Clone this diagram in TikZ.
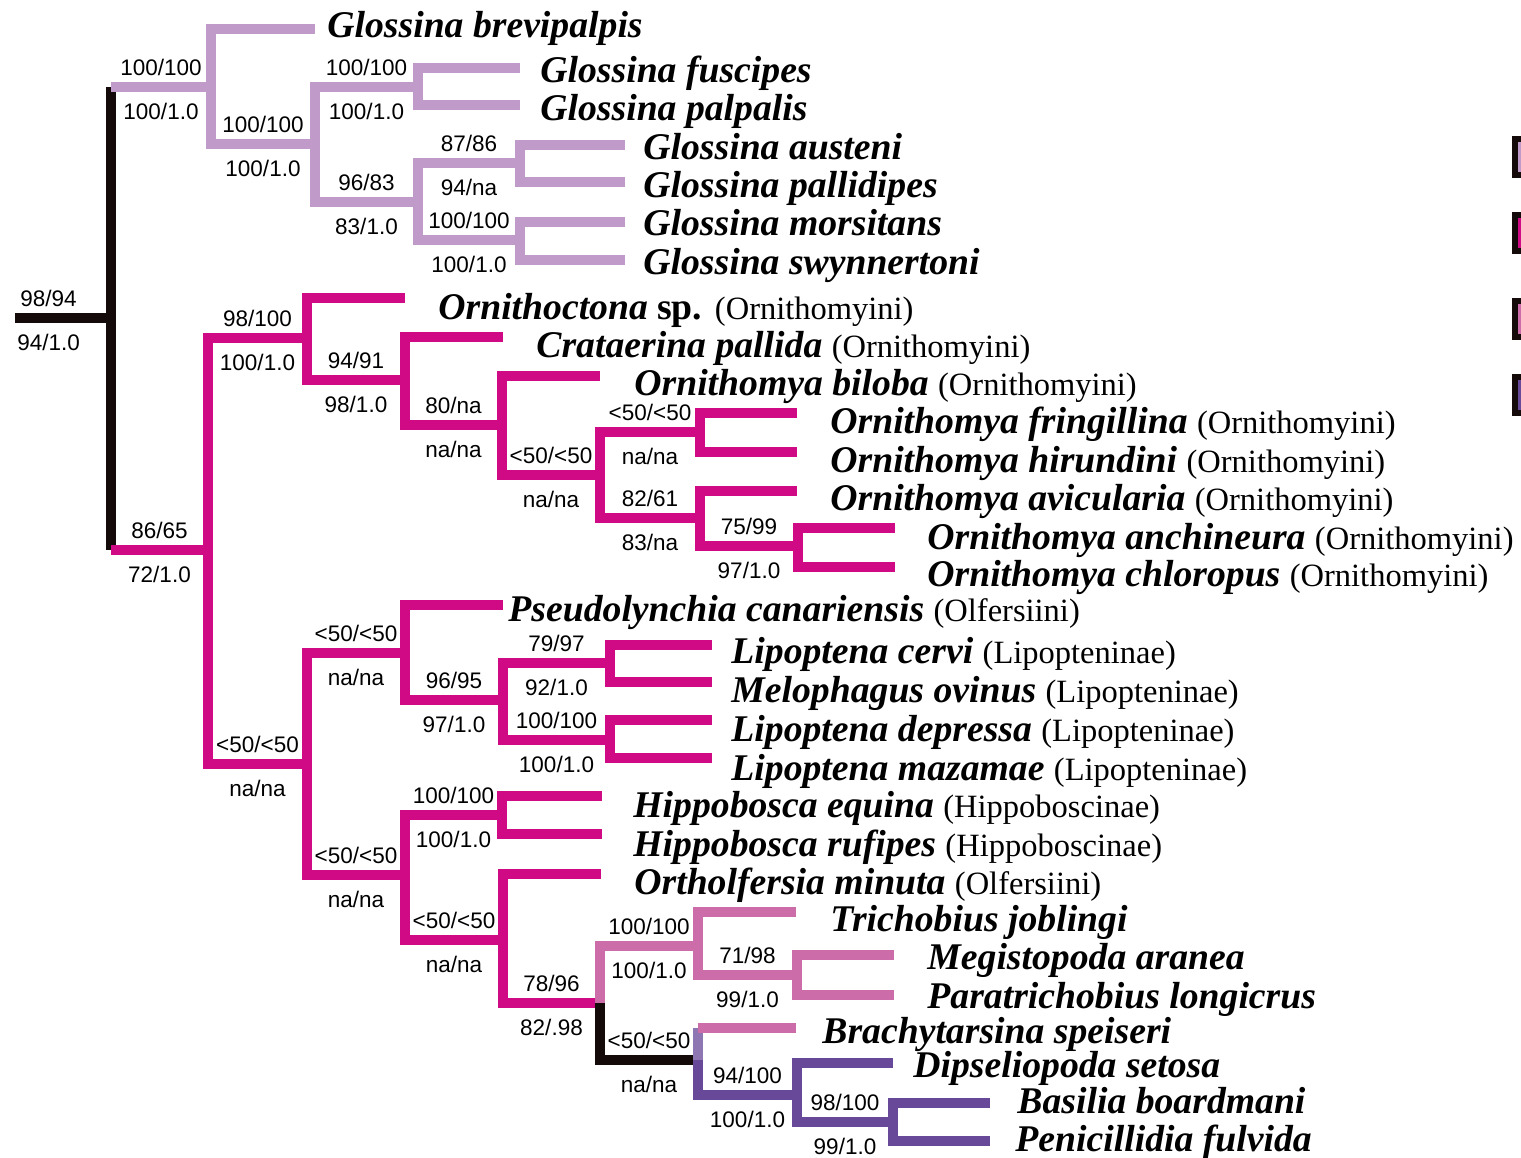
\documentclass[tikz,border=0pt]{standalone}
\usepackage{fontspec}
\usepackage{xcolor}
\usepackage{tikz}
\newfontfamily\taxfont{Liberation Serif}
\newfontfamily\supfont{Liberation Sans}
\definecolor{glossc}{RGB}{192,154,200}
\definecolor{hippoc}{RGB}{207,10,132}
\definecolor{streblc}{RGB}{204,108,168}
\definecolor{nyctc}{RGB}{104,72,152}
\definecolor{stemc}{RGB}{20,10,10}
\newcommand{\sname}[1]{\textbf{\textit{#1}}}
\newcommand{\tribe}[1]{{\fontsize{16.25}{18}\selectfont\mdseries\upshape (#1)}}

\begin{document}
\begin{tikzpicture}[x=0.5pt, y=-0.5pt,
  br/.style={line width=4.7pt, line join=miter},
  taxon/.style={anchor=base west, inner sep=0pt, font=\taxfont\fontsize{18.85}{20}\selectfont},
  suplab/.style={pos=0.75, anchor=base, inner sep=0pt, text=black, font=\supfont\fontsize{11.25}{12}\selectfont},
  supup/.style={suplab, yshift=6pt},
  supdown/.style={suplab, yshift=-16pt}
]
\useasboundingbox (0,0) rectangle (1521,1157);

% internal nodes
\coordinate (rootend) at (15,318);
\coordinate (root) at (111,318);
\coordinate (glo) at (211,87);
\coordinate (glo2) at (315,144);
\coordinate (fus) at (418,87);
\coordinate (glo3) at (418,202);
\coordinate (aus) at (520,163);
\coordinate (mor) at (520,240);
\coordinate (hip) at (208,550);
\coordinate (orn1) at (307,338);
\coordinate (orn2) at (405,380);
\coordinate (orn3) at (502,425);
\coordinate (orn4) at (600,475);
\coordinate (orn5) at (700,432);
\coordinate (orn6) at (700,518);
\coordinate (orn7) at (798,546);
\coordinate (low) at (307,764);
\coordinate (lip1) at (405,653);
\coordinate (lip2) at (503,700);
\coordinate (lip3) at (610,663);
\coordinate (lip4) at (610,740);
\coordinate (hbo) at (405,875);
\coordinate (hbo2) at (502,815);
\coordinate (ort) at (503,940);
\coordinate (bat) at (600,1003);
\coordinate (stre) at (698,946);
\coordinate (stre2) at (797,975);
\coordinate (nyc) at (698,1060);
\coordinate (nyc2) at (797,1095);
\coordinate (nyc3) at (893,1122);

% leaf tips
\coordinate (brev) at (315,29);
\coordinate (fusc) at (520,68);
\coordinate (palp) at (520,105);
\coordinate (aust) at (625,145);
\coordinate (pall) at (625,182);
\coordinate (mors) at (625,222);
\coordinate (swyn) at (625,260);
\coordinate (orto) at (405,298);
\coordinate (crat) at (503,337);
\coordinate (bilo) at (600,376);
\coordinate (frin) at (797,413);
\coordinate (hiru) at (797,452);
\coordinate (avic) at (797,491);
\coordinate (anch) at (895,528);
\coordinate (chlo) at (895,567);
\coordinate (pseu) at (503,605);
\coordinate (cerv) at (712,645);
\coordinate (ovin) at (712,682);
\coordinate (depr) at (712,720);
\coordinate (maza) at (712,758);
\coordinate (equi) at (602,796);
\coordinate (rufi) at (602,834);
\coordinate (orth) at (601,874);
\coordinate (trich) at (796,912);
\coordinate (megi) at (894,955);
\coordinate (parat) at (894,995);
\coordinate (brach) at (796,1028);
\coordinate (dips) at (893,1063);
\coordinate (basi) at (990,1103);
\coordinate (peni) at (990,1141);

% taxa
\node[taxon] (tbrev) at (327,37) {\sname{Glossina brevipalpis}};
\node[taxon] (tfusc) at (540,82) {\sname{Glossina fuscipes}};
\node[taxon] (tpalp) at (540,120) {\sname{Glossina palpalis}};
\node[taxon] (taust) at (643,159) {\sname{Glossina austeni}};
\node[taxon] (tpall) at (643,197) {\sname{Glossina pallidipes}};
\node[taxon] (tmors) at (643,235) {\sname{Glossina morsitans}};
\node[taxon] (tswyn) at (643,274) {\sname{Glossina swynnertoni}};
\node[taxon] (torto) at (438,319) {\sname{Ornithoctona} \textbf{sp.} \tribe{Ornithomyini}};
\node[taxon] (tcrat) at (536,357) {\sname{Crataerina pallida} \tribe{Ornithomyini}};
\node[taxon] (tbilo) at (634,395) {\sname{Ornithomya biloba} \tribe{Ornithomyini}};
\node[taxon] (tfrin) at (830,433) {\sname{Ornithomya fringillina} \tribe{Ornithomyini}};
\node[taxon] (thiru) at (830,472) {\sname{Ornithomya hirundini} \tribe{Ornithomyini}};
\node[taxon] (tavic) at (830,510) {\sname{Ornithomya avicularia} \tribe{Ornithomyini}};
\node[taxon] (tanch) at (927,549) {\sname{Ornithomya anchineura} \tribe{Ornithomyini}};
\node[taxon] (tchlo) at (927,586) {\sname{Ornithomya chloropus} \tribe{Ornithomyini}};
\node[taxon] (tpseu) at (508,621) {\sname{Pseudolynchia canariensis} \tribe{Olfersiini}};
\node[taxon] (tcerv) at (731,663) {\sname{Lipoptena cervi} \tribe{Lipopteninae}};
\node[taxon] (tovin) at (731,702) {\sname{Melophagus ovinus} \tribe{Lipopteninae}};
\node[taxon] (tdepr) at (731,741) {\sname{Lipoptena depressa} \tribe{Lipopteninae}};
\node[taxon] (tmaza) at (731,780) {\sname{Lipoptena mazamae} \tribe{Lipopteninae}};
\node[taxon] (tequi) at (633,817) {\sname{Hippobosca equina} \tribe{Hippoboscinae}};
\node[taxon] (trufi) at (633,856) {\sname{Hippobosca rufipes} \tribe{Hippoboscinae}};
\node[taxon] (torth) at (634,894) {\sname{Ortholfersia minuta} \tribe{Olfersiini}};
\node[taxon] (ttrich) at (830,931) {\sname{Trichobius joblingi}};
\node[taxon] (tmegi) at (927,969) {\sname{Megistopoda aranea}};
\node[taxon] (tparat) at (927,1008) {\sname{Paratrichobius longicrus}};
\node[taxon] (tbrach) at (822,1043) {\sname{Brachytarsina speiseri}};
\node[taxon] (tdips) at (913,1077) {\sname{Dipseliopoda setosa}};
\node[taxon] (tbasi) at (1017,1113) {\sname{Basilia boardmani}};
\node[taxon] (tpeni) at (1015,1151) {\sname{Penicillidia fulvida}};

% stem
\draw[br, stemc] (root |- glo) -- (root |- hip);
\draw[br, stemc] (rootend) -- node[supup, pos=0.35] {98/94} node[supdown, pos=0.35] {94/1.0} (root);

% Glossinidae
\draw[br, glossc] (root |- glo) -- node[supup, pos=0.5] {100/100} node[supdown, pos=0.5] {100/1.0} (glo);
\draw[br, glossc] (glo) |- (brev);
\draw[br, glossc] (glo) |- node[supup] {100/100} node[supdown] {100/1.0} (glo2);
\draw[br, glossc] (glo2) |- node[supup] {100/100} node[supdown] {100/1.0} (fus);
\draw[br, glossc] (glo2) |- node[supup] {96/83} node[supdown] {83/1.0} (glo3);
\draw[br, glossc] (fus) |- (fusc);
\draw[br, glossc] (fus) |- (palp);
\draw[br, glossc] (glo3) |- node[supup] {87/86} node[supdown] {94/na} (aus);
\draw[br, glossc] (glo3) |- node[supup] {100/100} node[supdown] {100/1.0} (mor);
\draw[br, glossc] (aus) |- (aust);
\draw[br, glossc] (aus) |- (pall);
\draw[br, glossc] (mor) |- (mors);
\draw[br, glossc] (mor) |- (swyn);

% Hippoboscidae
\draw[br, hippoc] (root |- hip) -- node[supup, pos=0.5] {86/65} node[supdown, pos=0.5] {72/1.0} (hip);
\draw[br, hippoc] (hip) |- node[supup] {98/100} node[supdown] {100/1.0} (orn1);
\draw[br, hippoc] (orn1) |- (orto);
\draw[br, hippoc] (orn1) |- node[supup] {94/91} node[supdown] {98/1.0} (orn2);
\draw[br, hippoc] (orn2) |- (crat);
\draw[br, hippoc] (orn2) |- node[supup] {80/na} node[supdown] {na/na} (orn3);
\draw[br, hippoc] (orn3) |- (bilo);
\draw[br, hippoc] (orn3) |- node[supup] {<50/<50} node[supdown] {na/na} (orn4);
\draw[br, hippoc] (orn4) |- node[supup] {<50/<50} node[supdown] {na/na} (orn5);
\draw[br, hippoc] (orn4) |- node[supup] {82/61} node[supdown] {83/na} (orn6);
\draw[br, hippoc] (orn5) |- (frin);
\draw[br, hippoc] (orn5) |- (hiru);
\draw[br, hippoc] (orn6) |- (avic);
\draw[br, hippoc] (orn6) |- node[supup] {75/99} node[supdown] {97/1.0} (orn7);
\draw[br, hippoc] (orn7) |- (anch);
\draw[br, hippoc] (orn7) |- (chlo);
\draw[br, hippoc] (hip) |- node[supup] {<50/<50} node[supdown] {na/na} (low);
\draw[br, hippoc] (low) |- node[supup] {<50/<50} node[supdown] {na/na} (lip1);
\draw[br, hippoc] (lip1) |- (pseu);
\draw[br, hippoc] (lip1) |- node[supup] {96/95} node[supdown] {97/1.0} (lip2);
\draw[br, hippoc] (lip2) |- node[supup] {79/97} node[supdown] {92/1.0} (lip3);
\draw[br, hippoc] (lip2) |- node[supup] {100/100} node[supdown] {100/1.0} (lip4);
\draw[br, hippoc] (lip3) |- (cerv);
\draw[br, hippoc] (lip3) |- (ovin);
\draw[br, hippoc] (lip4) |- (depr);
\draw[br, hippoc] (lip4) |- (maza);
\draw[br, hippoc] (low) |- node[supup] {<50/<50} node[supdown] {na/na} (hbo);
\draw[br, hippoc] (hbo) |- node[supup] {100/100} node[supdown] {100/1.0} (hbo2);
\draw[br, hippoc] (hbo2) |- (equi);
\draw[br, hippoc] (hbo2) |- (rufi);
\draw[br, hippoc] (hbo) |- node[supup] {<50/<50} node[supdown] {na/na} (ort);
\draw[br, hippoc] (ort) |- (orth);
\draw[br, hippoc] (ort) |- node[supup] {78/96} node[supdown] {82/.98} (bat);

% bat flies
\draw[br, streblc] (bat) |- node[supup] {100/100} node[supdown] {100/1.0} (stre);
\draw[br, streblc] (stre) |- (trich);
\draw[br, streblc] (stre) |- node[supup] {71/98} node[supdown] {99/1.0} (stre2);
\draw[br, streblc] (stre2) |- (megi);
\draw[br, streblc] (stre2) |- (parat);
\draw[br, stemc] (bat) |- node[supup] {<50/<50} node[supdown] {na/na} (nyc);
\draw[br, nyctc!75] (nyc) -- (nyc |- brach);
\draw[br, streblc] (nyc |- brach) -- (brach);
\draw[br, nyctc] (nyc) |- node[supup] {94/100} node[supdown] {100/1.0} (nyc2);
\draw[br, nyctc] (nyc2) |- (dips);
\draw[br, nyctc] (nyc2) |- node[supup] {98/100} node[supdown] {99/1.0} (nyc3);
\draw[br, nyctc] (nyc3) |- (basi);
\draw[br, nyctc] (nyc3) |- (peni);

% key boxes, cut at the edge
\fill[stemc] (1512,136) rectangle (1521,178);
\fill[glossc] (1518,142) rectangle (1521,172);
\fill[stemc] (1512,212) rectangle (1521,254);
\fill[hippoc] (1518,218) rectangle (1521,248);
\fill[stemc] (1512,298) rectangle (1521,340);
\fill[streblc] (1518,304) rectangle (1521,334);
\fill[stemc] (1512,374) rectangle (1521,416);
\fill[nyctc] (1518,380) rectangle (1521,410);
\end{tikzpicture}
\end{document}
